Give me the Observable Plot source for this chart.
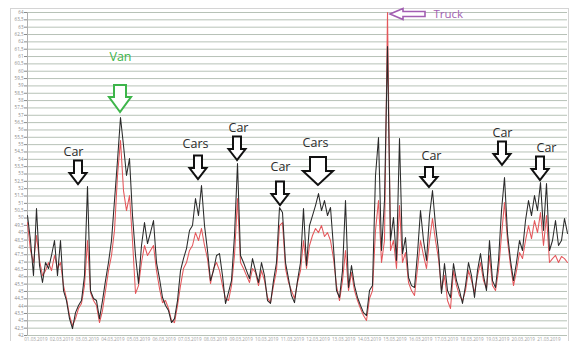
<!DOCTYPE html>
<html><head><meta charset="utf-8">
<script src="https://cdn.jsdelivr.net/npm/d3@7"></script>
<script src="https://cdn.jsdelivr.net/npm/@observablehq/plot@0.6"></script>
<style>body{margin:0;background:#fff}#chart{width:570px;height:341px;overflow:hidden}</style>
</head><body><div id="chart"></div>
<script>
// Black series (one sample every step)
const black = [
50.17,48.47,46.08,50.65,46.77,45.61,46.97,46.56,47.45,48.47,
46.08,48.47,45.06,44.38,43.15,42.47,43.56,44.04,44.38,46.08,
52.15,45.06,44.52,44.38,43.15,44.38,45.74,46.97,48.47,51.19,
53.92,56.85,54.94,52.90,54.05,50.17,47.45,45.54,48.13,49.69,
48.26,49.01,49.83,46.97,45.88,44.59,44.04,43.70,42.88,43.15,
44.38,46.42,47.24,47.92,49.15,49.49,51.33,50.17,52.22,49.49,
47.79,45.74,46.42,47.45,47.58,46.08,44.18,44.93,45.74,48.81,
53.71,47.45,46.97,46.42,45.88,47.24,46.42,45.61,46.97,46.08,
44.38,44.18,45.74,46.97,50.72,50.38,46.97,45.88,44.72,44.24,
45.74,46.97,50.65,46.77,49.49,50.17,50.85,51.67,50.51,51.19,
50.17,50.72,47.99,45.06,44.59,46.42,51.19,45.27,46.77,45.40,
44.59,44.04,43.56,43.36,45.06,45.40,52.90,55.48,47.79,51.19,
61.68,48.47,50.04,47.11,55.42,47.58,48.67,45.95,45.40,45.27,
47.58,50.51,48.47,47.11,50.17,51.87,49.49,47.79,44.86,46.90,
45.06,44.59,46.90,45.74,45.06,44.18,45.40,46.97,46.08,44.59,
46.42,47.58,46.08,45.06,48.47,45.74,45.27,47.11,50.51,52.76,
48.95,47.11,45.74,46.97,48.47,47.79,49.83,51.19,50.17,51.53,
50.51,52.42,49.15,52.35,47.79,48.47,49.83,48.13,48.47,49.97,
48.95];
// Red series
const red = [
49.69,47.79,46.97,48.81,47.11,46.08,46.42,46.97,46.42,47.45,
46.56,46.97,45.40,44.52,43.36,42.68,43.15,43.84,44.18,45.40,
48.47,44.93,44.38,44.04,42.88,43.70,45.06,46.42,47.45,49.15,
52.90,55.28,51.87,50.51,51.53,48.47,44.86,45.40,46.97,48.13,
47.45,47.79,48.13,46.42,45.20,44.24,44.38,43.84,43.02,42.88,
44.04,45.40,46.56,46.97,47.79,48.13,49.01,48.47,49.29,48.13,
47.24,45.54,46.56,46.97,46.42,45.40,44.52,44.38,45.40,47.45,
51.33,46.97,46.56,46.08,45.61,46.56,46.29,45.40,46.42,45.74,
44.59,44.24,45.40,46.42,49.49,49.69,46.56,45.61,45.06,44.52,
45.61,46.42,48.47,46.56,48.13,48.81,49.29,49.01,49.49,48.74,
49.01,48.47,47.24,45.40,44.38,45.74,47.79,45.06,46.29,45.06,
44.38,43.84,43.36,43.02,44.52,45.06,49.15,51.19,46.97,48.47,
64.00,47.79,48.47,46.56,50.85,46.97,47.65,45.61,45.06,44.72,
46.56,48.47,47.45,46.56,48.47,49.97,48.47,47.24,45.06,46.08,
44.38,43.84,46.42,45.40,44.72,44.38,45.06,46.42,45.74,44.93,
46.08,46.97,45.74,45.20,47.45,45.40,45.06,46.42,48.81,51.06,
48.47,46.77,45.40,46.42,47.65,47.24,48.47,49.49,48.60,49.83,
49.01,50.38,48.13,50.17,46.97,47.24,47.45,46.97,47.38,47.24,
46.97];

const yTicks = [42,42.5,43,43.5,44,44.5,45,45.5,46,46.5,47,47.5,48,48.5,49,49.5,50,50.5,51,51.5,52,52.5,53,53.5,54,54.5,55,55.5,56,56.5,57,57.5,58,58.5,59,59.5,60,60.5,61,61.5,62,62.5,63,63.5,64];
const xTickLabels = ["01.03.2019","02.03.2019","03.03.2019","04.03.2019","05.03.2019","06.03.2019","07.03.2019","08.03.2019","09.03.2019","10.03.2019","11.03.2019","12.03.2019","13.03.2019","14.03.2019","15.03.2019","16.03.2019","17.03.2019","18.03.2019","19.03.2019","20.03.2019","21.03.2019"];

// Annotations (sample index / value of arrow tip, label placement)
const annLabels    = ["Car","Van","Cars","Car","Car","Cars","Car","Car","Car"];
const annIndex     = [17, 31, 57, 70, 84.33, 97, 134, 158.33, 171];
const annTip       = [52.28, 57.19, 52.62, 53.92, 50.85, 52.22, 52.08, 53.58, 52.55];
const annTextIndex = [15.33, 31, 56, 70.33, 84.33, 96, 134.67, 158.33, 173];
const annTextValue = [54.53, 60.98, 55.01, 56.10, 53.51, 55.08, 54.25, 55.82, 54.80];
const annKind      = ["s","van","s","s","s","l","xs","s","s"];
const truckLabel = "Truck";
const truckTip = {i: 121, v: 63.86};
const truckText = {i: 135.33, v: 63.90};

const kinds = {
  s:   {hw: 8.5, sw: 4, hh: 11, sl: 12.5, color: "#111"},
  xs:  {hw: 8.5, sw: 4, hh: 10, sl: 10, color: "#111"},
  l:   {hw: 15, sw: 8, hh: 14, sl: 14, color: "#111"},
  van: {hw: 11, sw: 6, hh: 15, sl: 12, color: "#3db54a"}
};

function decorations(index, scales, values, dims) {
  const g = d3.create("svg:g");
  g.append("rect").attr("x", 10.5).attr("y", 8.5).attr("width", 558).attr("height", 340)
    .attr("fill", "none").attr("stroke", "#d4d4d4");
  annLabels.forEach((lab, i) => {
    const cx = scales.x(annIndex[i]), cy = scales.y(annTip[i]);
    const {hw, sw, hh, sl, color} = kinds[annKind[i]];
    const p = `M${cx},${cy}L${cx-hw},${cy-hh}L${cx-sw},${cy-hh}L${cx-sw},${cy-hh-sl}L${cx+sw},${cy-hh-sl}L${cx+sw},${cy-hh}L${cx+hw},${cy-hh}Z`;
    g.append("path").attr("d", p).attr("fill", "#fff").attr("stroke", color)
      .attr("stroke-width", 2).attr("stroke-linejoin", "miter");
  });
  const tx = scales.x(truckTip.i), ty = scales.y(truckTip.v);
  const tp = `M${tx},${ty}L${tx+13},${ty-5.5}L${tx+13},${ty-2.5}L${tx+35},${ty-2.5}L${tx+35},${ty+2.5}L${tx+13},${ty+2.5}L${tx+13},${ty+5.5}Z`;
  g.append("path").attr("d", tp).attr("fill", "#fff").attr("stroke", "#a25fb2").attr("stroke-width", 1.6);
  return g.node();
}

const blackLabels = annLabels.map((d, i) => i).filter(i => annKind[i] !== "van");
const vanLabels = annLabels.map((d, i) => i).filter(i => annKind[i] === "van");

const chart = Plot.plot({
  width: 570, height: 341,
  marginLeft: 27, marginRight: 3, marginTop: 12, marginBottom: 6,
  style: {background: "#fff", fontFamily: "'Open Sans', sans-serif"},
  x: {domain: [0, 180], axis: null},
  y: {domain: [42, 64], axis: null},
  marks: [
    Plot.gridY(yTicks, {stroke: "#b7c2b7", strokeOpacity: 1, strokeWidth: 1}),
    Plot.ruleX([0], {stroke: "#b0b0b0"}),
    Plot.axisY({ticks: yTicks, tickFormat: d => String(d).replace(".", ","), fontSize: 4.5, tickSize: 3, tickPadding: 1, color: "#8a8a8a", label: null}),
    Plot.text(xTickLabels, {x: (d, i) => 2.8 + 8.55 * i, frameAnchor: "bottom", lineAnchor: "top", dy: 2.5, fontSize: 4.6, fill: "#a0a0a0"}),
    Plot.line(red, {x: (d, i) => i, y: d => d, stroke: "#e4575b", strokeWidth: 1.05}),
    Plot.line(black, {x: (d, i) => i, y: d => d, stroke: "#2a2a2a", strokeWidth: 1.05}),
    decorations,
    Plot.text(blackLabels, {x: i => annTextIndex[i], y: i => annTextValue[i], text: i => annLabels[i], fill: "#2b2b2b", fontSize: 12.5}),
    Plot.text(vanLabels, {x: i => annTextIndex[i], y: i => annTextValue[i], text: i => annLabels[i], fill: "#3db54a", fontSize: 12.5}),
    Plot.text([truckLabel], {x: truckText.i, y: truckText.v, textAnchor: "start", fill: "#a25fb2", fontSize: 11.5})
  ]
});
document.getElementById("chart").appendChild(chart);
</script>
</body></html>
